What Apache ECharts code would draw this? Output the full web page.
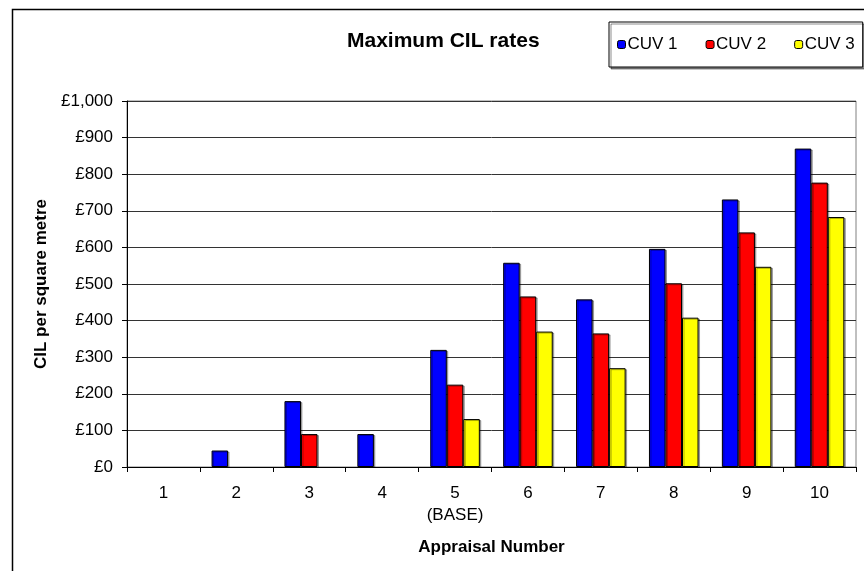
<!DOCTYPE html>
<html>
<head>
<meta charset="utf-8">
<script src="https://cdn.jsdelivr.net/npm/echarts@6/dist/echarts.min.js"></script>
<style>
html, body { margin: 0; padding: 0; background: #fff; }
#chart { width: 864px; height: 571px; }
</style>
</head>
<body>
<div id="chart"></div>
<script>
// appraisal numbers along the x axis
const categories = ['1', '2', '3', '4', '5\n(BASE)', '6', '7', '8', '9', '10'];
// maximum CIL rate, £ per square metre (null = no bar drawn)
const cuv1 = [null, 45, 180, 90, 320, 558, 458, 596, 731, 870];
const cuv2 = [null, null, 90, null, 225, 466, 365, 502, 641, 777];
const cuv3 = [null, null, null, null, 131, 370, 270, 408, 547, 683];
const seriesNames = ['CUV 1', 'CUV 2', 'CUV 3'];
const seriesColors = ['#0000ff', '#ff0000', '#ffff00'];

const font = '"Liberation Sans", Arial, sans-serif';

const chart = echarts.init(document.getElementById('chart'));

function barSeries(name, data, color) {
    return {
        name: name,
        type: 'bar',
        data: data,
        barGap: 0,
        barCategoryGap: '32%',
        itemStyle: {
            color: color,
            borderColor: '#000',
            borderWidth: 1,
            shadowColor: 'rgba(0,0,0,0.3)',
            shadowOffsetX: 1.5,
            shadowOffsetY: 1
        }
    };
}

const option = {
    animation: false,
    backgroundColor: '#fff',
    textStyle: { fontFamily: font, color: '#000' },
    title: {
        text: 'Maximum CIL rates',
        left: 342,
        top: 26,
        textStyle: { fontFamily: font, fontSize: 21, fontWeight: 'bold', color: '#000' }
    },
    legend: {
        data: seriesNames,
        left: 609,
        top: 22,
        padding: [14, 8, 14, 8],
        itemGap: 28,
        itemWidth: 8,
        itemHeight: 8,
        borderColor: '#000',
        borderWidth: 1,
        backgroundColor: '#fff',
        shadowColor: 'rgba(0,0,0,0.45)',
        shadowOffsetX: 2,
        shadowOffsetY: 2,
        textStyle: { fontFamily: font, fontSize: 17, color: '#000', padding: [0, 0, 0, -3] },
        itemStyle: { borderColor: '#000', borderWidth: 1 }
    },
    graphic: [{
        type: 'rect',
        z: -10,
        shape: { x: 12.5, y: 9.5, width: 900, height: 600 },
        style: { fill: 'none', stroke: '#000', lineWidth: 1.5 }
    }],
    grid: {
        left: 127,
        top: 101,
        right: 8,
        bottom: 104,
        show: true,
        borderColor: '#808080',
        borderWidth: 1,
        backgroundColor: '#fff'
    },
    xAxis: {
        type: 'category',
        data: categories,
        name: 'Appraisal Number',
        nameLocation: 'middle',
        nameGap: 72,
        nameTextStyle: { fontFamily: font, fontSize: 17, fontWeight: 'bold', color: '#000' },
        axisLine: { lineStyle: { color: '#000', width: 1 } },
        axisTick: { show: true, interval: 0, length: 5, lineStyle: { color: '#000' } },
        axisLabel: { interval: 0, fontFamily: font, fontSize: 17, color: '#000', margin: 15, lineHeight: 22 }
    },
    yAxis: {
        type: 'value',
        min: 0,
        max: 1000,
        interval: 100,
        name: 'CIL per square metre',
        nameLocation: 'middle',
        nameGap: 77,
        nameTextStyle: { fontFamily: font, fontSize: 17, fontWeight: 'bold', color: '#000' },
        axisLine: { show: true, lineStyle: { color: '#000', width: 1 } },
        axisTick: { show: true, length: 5, lineStyle: { color: '#000' } },
        axisLabel: {
            fontFamily: font, fontSize: 17, color: '#000', margin: 14,
            formatter: function (v) { return '£' + v.toLocaleString('en-GB'); }
        },
        splitLine: { show: true, lineStyle: { color: '#333', width: 1 } }
    },
    series: [
        barSeries(seriesNames[0], cuv1, seriesColors[0]),
        barSeries(seriesNames[1], cuv2, seriesColors[1]),
        barSeries(seriesNames[2], cuv3, seriesColors[2])
    ]
};

chart.setOption(option);
</script>
</body>
</html>
